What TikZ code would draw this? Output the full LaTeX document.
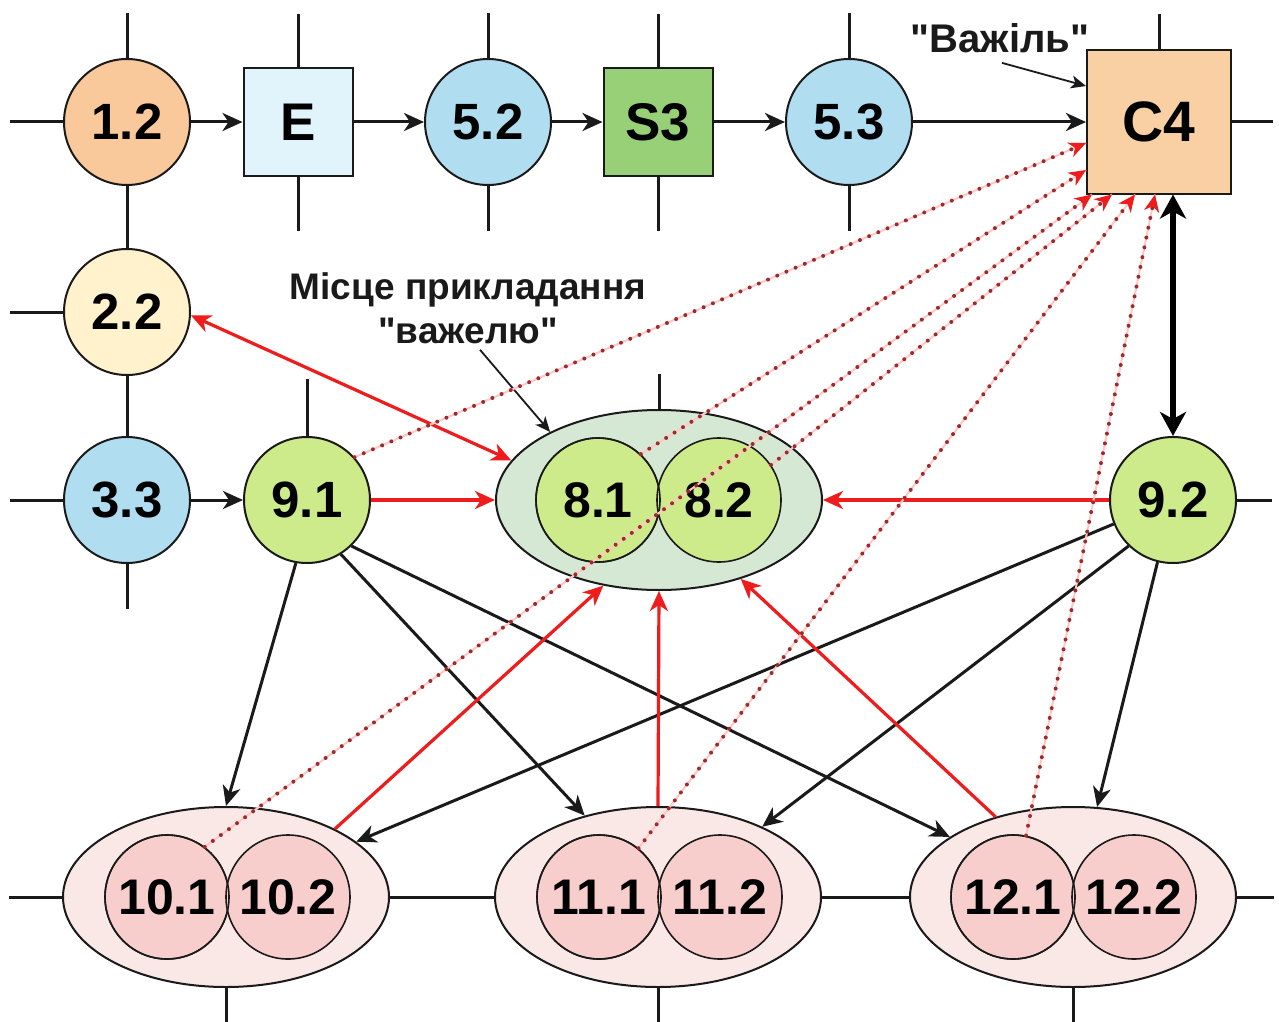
\documentclass[tikz,border=0pt]{standalone}
\usepackage{fontspec}
\setmainfont{Liberation Sans}[Ligatures=TeXOff]
\usetikzlibrary{arrows.meta,shapes.geometric,calc}
\definecolor{cOrange}{HTML}{F9C99B}
\definecolor{cLightBlue}{HTML}{E1F4FC}
\definecolor{cBlue}{HTML}{B1DDF0}
\definecolor{cGreen}{HTML}{97D077}
\definecolor{cCfour}{HTML}{F9D0A4}
\definecolor{cYellow}{HTML}{FFF2CC}
\definecolor{cLime}{HTML}{CDEB8B}
\definecolor{cSage}{HTML}{D5E8D4}
\definecolor{cPinkL}{HTML}{F9E8E6}
\definecolor{cPink}{HTML}{F8CECC}
\definecolor{cRed}{HTML}{EE1C1C}
\definecolor{cDot}{HTML}{9E2A2A}
\definecolor{cLine}{HTML}{1A1A1A}
\begin{document}
\begin{tikzpicture}[x=1pt,y=-1pt,
  circ/.style={circle, draw=cLine, line width=2pt, minimum size=126pt, inner sep=0pt,
    font=\fontsize{51}{51}\selectfont\bfseries},
  sq/.style={rectangle, draw=cLine, line width=2pt, inner sep=0pt,
    font=\fontsize{53}{53}\selectfont\bfseries},
  ell/.style={ellipse, draw=cLine, line width=2pt, minimum width=326pt, minimum height=180pt, inner sep=0pt},
  incirc/.style={circle, draw=cLine, line width=1.6pt, minimum size=124pt, inner sep=0pt,
    font=\fontsize{50}{50}\selectfont\bfseries},
  stub/.style={draw=cLine, line width=3pt},
  arr/.style={draw=cLine, line width=3pt, -{Stealth[length=20pt,width=18pt,inset=6pt]}},
  redarr/.style={draw=cRed, line width=3.2pt, -{Stealth[length=20pt,width=18pt,inset=6pt]}},
  redboth/.style={draw=cRed, line width=3.2pt, {Stealth[length=20pt,width=18pt,inset=6pt]}-{Stealth[length=20pt,width=18pt,inset=6pt]}},
  dotarr/.style={draw=cDot, line width=4pt, dash pattern=on 0pt off 10pt, line cap=round,
    preaction={draw=red!22, line width=2pt, solid, -},
    -{Stealth[length=17pt,width=15pt,inset=5pt,color=cRed,fill=cRed,line cap=butt]}},
  heavy/.style={draw=black, line width=6pt, {Stealth[length=24pt,width=26pt,inset=7pt]}-{Stealth[length=24pt,width=26pt,inset=7pt]}},
  thinarr/.style={draw=cLine, line width=1.8pt, -{Stealth[length=15pt,width=13pt,inset=4pt]}},
  lbl/.style={inner sep=0pt, font=\fontsize{37}{44}\selectfont\bfseries, text=cLine}
]
\useasboundingbox (0,0) rectangle (1279,1022);
\fill[white] (0,0) rectangle (1279,1022);

% ---- top row
\node[circ, fill=cOrange] (n12) at (127,122) {1.2};
\node[sq, fill=cLightBlue, minimum width=109pt, minimum height=108pt] (nE) at (298,122) {E};
\node[circ, fill=cBlue] (n52) at (488,122) {5.2};
\node[sq, fill=cGreen, minimum width=109pt, minimum height=108pt] (nS3) at (658,122) {S3};
\node[circ, fill=cBlue] (n53) at (849,122) {5.3};
\node[sq, fill=cCfour, minimum width=144pt, minimum height=143pt, font=\fontsize{57}{57}\selectfont\bfseries] (nC4) at (1159,122) {C4};

% ---- left column
\node[circ, fill=cYellow] (n22) at (127,312) {2.2};
\node[circ, fill=cBlue] (n33) at (127,500) {3.3};
\node[circ, fill=cLime] (n91) at (307,500) {9.1};
\node[circ, fill=cLime] (n92) at (1173,500) {9.2};

% ---- ellipse 8
\node[ell, fill=cSage] (e8) at (659,500) {};
\node[incirc, fill=cLime] (c81) at (598,500) {8.1};
\node[incirc, fill=cLime] (c82) at (719,500) {8.2};
\draw[line width=1.6pt, cLine] (c81.center) circle[radius=62pt];

% ---- bottom ellipses
\node[ell, fill=cPinkL] (e10) at (226,897) {};
\node[incirc, fill=cPink] (c101) at (167,897) {10.1};
\node[incirc, fill=cPink] (c102) at (288,897) {10.2};
\draw[line width=1.6pt, cLine] (c101.center) circle[radius=62pt];

\node[ell, fill=cPinkL] (e11) at (658,897) {};
\node[incirc, fill=cPink] (c111) at (599,897) {11.1};
\node[incirc, fill=cPink] (c112) at (720,897) {11.2};
\draw[line width=1.6pt, cLine] (c111.center) circle[radius=62pt];

\node[ell, fill=cPinkL] (e12) at (1073,897) {};
\node[incirc, fill=cPink] (c121) at (1013,897) {12.1};
\node[incirc, fill=cPink] (c122) at (1134,897) {12.2};
\draw[line width=1.6pt, cLine] (c121.center) circle[radius=62pt];

% ---- labels
\node[lbl, font=\fontsize{40}{44}\selectfont\bfseries] (lV) at (1000,38) {"Важіль"};
\node[lbl, align=center] (lM) at (468,308) {Місце прикладання\\"важелю"};

% ---- grid stubs
\draw[stub] (n12.west) -- ++(-53,0);
\draw[stub] (n12.north) -- ++(0,-45);
\draw[stub] (n12.south) -- (n22.north);
\draw[stub] (n22.west) -- ++(-53,0);
\draw[stub] (n22.south) -- (n33.north);
\draw[stub] (n33.west) -- ++(-53,0);
\draw[stub] (n33.south) -- ++(0,45);
\draw[stub] (nE.north) -- ++(0,-53);
\draw[stub] (nE.south) -- ++(0,54);
\draw[stub] (n52.north) -- ++(0,-45);
\draw[stub] (n52.south) -- ++(0,45);
\draw[stub] (nS3.north) -- ++(0,-53);
\draw[stub] (nS3.south) -- ++(0,54);
\draw[stub] (n53.north) -- ++(0,-45);
\draw[stub] (n53.south) -- ++(0,45);
\draw[stub] (nC4.north) -- ++(0,-35);
\draw[stub] (nC4.east) -- ++(41,0);
\draw[stub] (n91.north) -- ++(0,-57);
\draw[stub] (e8.north) -- ++(0,-35);
\draw[stub] (n92.east) -- ++(35,0);
\draw[stub] (e10.west) -- ++(-53,0);
\draw[stub] (e10.east) -- (e11.west);
\draw[stub] (e11.east) -- (e12.west);
\draw[stub] (e12.east) -- ++(37,0);
\draw[stub] (e10.south) -- ++(0,40);
\draw[stub] (e11.south) -- ++(0,40);
\draw[stub] (e12.south) -- ++(0,40);

% ---- top row flow
\draw[arr] (n12.east) -- (nE.west);
\draw[arr] (nE.east) -- (n52.west);
\draw[arr] (n52.east) -- (nS3.west);
\draw[arr] (nS3.east) -- (n53.west);
\draw[arr] (n53.east) -- (nC4.west);
\draw[arr] (n33.east) -- (n91.west);

% ---- annotation arrows
\draw[thinarr] ([xshift=2pt,yshift=-10pt]lV.south) -- ([yshift=36pt]nC4.west);
\draw[thinarr] ([xshift=12pt,yshift=-6pt]lM.south) -- (e8.148);

% ---- black arrows to bottom
\draw[arr] (n91.260) -- (e10.north);
\draw[arr] (n91.-58) -- (e11.132);
\draw[arr] (n91.-46) -- (e12.154);
\draw[arr] (n92.202) -- (e10.23);
\draw[arr] (n92.226) -- (e11.34);
\draw[arr] (n92.256) -- (e12.75);

% ---- red arrows to 8
\draw[redarr] (n91.east) -- (e8.west);
\draw[redarr] (n92.west) -- (e8.east);
\draw[redboth] (n22.-3) -- (e8.165);
\draw[redarr] (e10.32) -- (e8.237);
\draw[redarr] (e11.north) -- (e8.south);
\draw[redarr] (e12.134) -- (e8.-44);

% ---- heavy double arrow
\draw[heavy] (nC4.south -| n92.north) -- (n92.north);

% ---- dotted arrows to C4
\draw[dotarr] (n91.42) -- ([yshift=-21pt]nC4.west);
\draw[dotarr] (c81.47) -- ([yshift=-48pt]nC4.west);
\draw[dotarr] (c101.53) -- ([xshift=-67pt]nC4.south);
\draw[dotarr] (c82.34) -- ([xshift=-47pt]nC4.south);
\draw[dotarr] (c111.51) -- ([xshift=-24pt]nC4.south);
\draw[dotarr] (c121.78) -- ([xshift=-4pt]nC4.south);
\end{tikzpicture}
\end{document}
